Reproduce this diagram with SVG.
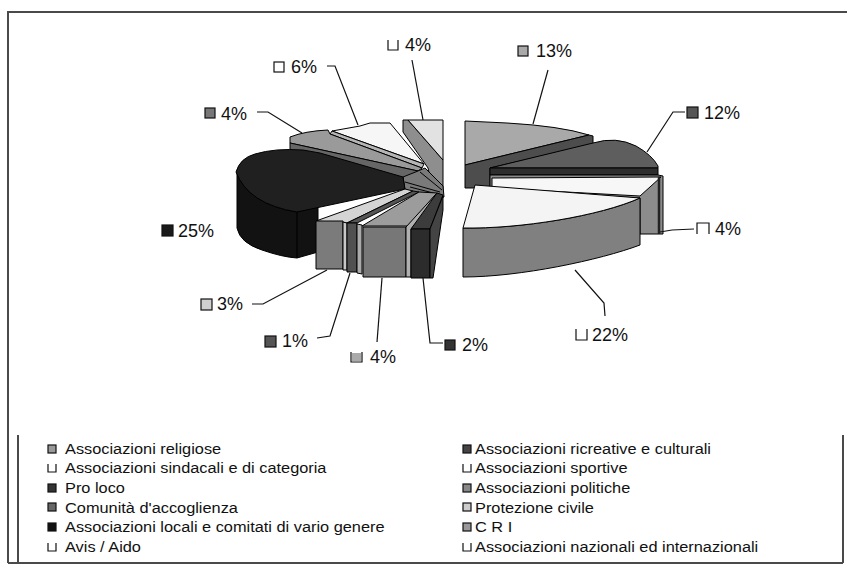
<svg xmlns="http://www.w3.org/2000/svg" width="847" height="565" viewBox="0 0 847 565">
<style>
.e{stroke:#000;stroke-width:1;stroke-linejoin:round}
.lbl{font-family:"Liberation Sans",Arial,sans-serif;font-size:18px;fill:#111}
.lg{font-family:"Liberation Sans",Arial,sans-serif;font-size:15px;fill:#111}
.bx{stroke:#111;stroke-width:1.2}
.ob{fill:none;stroke:#111;stroke-width:1.2}
.ld{fill:none;stroke:#111;stroke-width:1.2}
.fr{fill:none;stroke:#4a4a4a;stroke-width:2}
</style>
<rect width="847" height="565" fill="#fff"/>
<g id="frame">
<path class="fr" d="M8,563 L8,12 L847,12"/>
<path class="fr" d="M8,563 L843,563 M18,435 L18,563 M843,435 L843,563"/>
</g>

<!-- right group -->
<g id="s-religiose">
<path class="e" fill="#a9a9a9" d="M465,121 L507,123 Q560,126 589,135 L465,165 Z"/>
<path class="e" fill="#4d4d4d" d="M465,165 L589,135 L593,136 L593,144 L490,168 L490,188 L465,188 Z"/>
<rect class="bx" x="518" y="46" width="10" height="10" fill="#a9a9a9"/>
<text class="lbl" x="536" y="57">13%</text>
</g>
<g id="s-ricreative">
<path class="e" fill="#5e5e5e" d="M490,168 L593,143 Q616,136 636,146 Q652,155 658,166 L658,168 Z"/>
<path class="e" fill="#2e2e2e" d="M490,168 L658,168 L658,175 L490,175 Z"/>
<rect class="bx" x="687" y="107" width="11" height="11" fill="#555"/>
<text class="lbl" x="704" y="119">12%</text>
</g>
<g id="s-sindacali">
<path class="e" fill="#8c8c8c" d="M490,175 L658,175 L663,176 L663,234 L640,234 L640,198 L492,190 L490,190 Z"/>
<path class="e" fill="#f7f7f7" d="M492,178 L661,177 L640,196 L492,188 Z"/>
<path d="M659,177 L659,234" stroke="#222" stroke-width="2.5"/>
<path class="ob" d="M697,234 L697,223 L709,223 L709,234"/>
<text class="lbl" x="715" y="235">4%</text>
</g>
<g id="s-sportive">
<path class="e" fill="#808080" d="M463,228 C520,229 600,216 640,198 L640,245 C600,260 520,277 463,277 Z"/>
<path class="e" fill="#f4f4f4" d="M475,185 L640,198 C600,216 520,229 463,228 Z"/>
<path class="ob" d="M576,329 L576,340 L587,340 L587,329"/>
<text class="lbl" x="592" y="341">22%</text>
</g>

<!-- left group -->
<g id="s-nazionali">
<path class="e" fill="#8e8e8e" d="M403,120 L408,120 L443,160 L443,192 L434,194 L428,168 L403,132 Z"/>
<path class="e" fill="#e2e2e2" d="M408,120 L443,120 L443,160 Z"/>
<path class="ob" d="M388,40 L388,50 L398,50 L398,40"/>
<text class="lbl" x="405" y="51">4%</text>
</g>
<g id="s-avis">
<path class="e" fill="#f6f6f6" d="M332,131 L360,126 L370,123 L390,123 L424,164 Z"/>
<path class="e" fill="#b5b5b5" d="M332,131 L424,164 L422,168 L330,134 Z"/>
<rect class="bx" x="274" y="62" width="10" height="10" fill="#fff"/>
<text class="lbl" x="291" y="73">6%</text>
</g>
<g id="s-cri">
<path class="e" fill="#9a9a9a" d="M290,137 Q305,131 328,130 L330,134 L422,168 L418,171 L290,143 Z"/>
<path class="e" fill="#666" d="M290,143 L418,171 L425,186 L405,188 L320,155 L290,153 Z"/>
<rect class="bx" x="205" y="108" width="10" height="10" fill="#777"/>
<text class="lbl" x="221" y="120">4%</text>
</g>
<g id="hub">
<path class="e" fill="#7a7a7a" d="M403,177 L418,171 L425,168 L443,186 L444,197 L436,200 L405,190 Z"/>
<path class="e" fill="none" d="M405,182 L440,192 M410,187 L441,195 M420,172 L442,190"/>
</g>
<g id="s-locali">
<path class="e" fill="#121212" d="M237,172 L237,228 Q240,243 262,250 Q282,257 297,258 L318,252 L318,200 L297,212 Q248,204 237,172 Z"/>
<path class="e" fill="#202020" d="M236,172 Q240,158 255,154 Q275,148 303,150 L320,153 L403,177 L405,189 L297,212 Q248,204 236,172 Z"/>
<path d="M297,212 L297,258" stroke="#000" stroke-width="1.2"/>
<rect class="bx" x="162" y="225" width="11" height="11" fill="#1a1a1a"/>
<text class="lbl" x="178" y="237">25%</text>
</g>
<g id="s-protezione">
<path class="e" fill="#d4d4d4" d="M316,221 L405,189 L413,191 L347,223 Z"/>
<path class="e" fill="#7b7b7b" d="M316,221 L343,221 L343,269 L316,269 Z"/>
<path class="e" fill="#c8c8c8" d="M343,222 L347,223 L347,270 L343,270 Z"/>
<rect class="bx" x="201" y="299" width="11" height="11" fill="#d0d0d0"/>
<text class="lbl" x="217" y="310">3%</text>
</g>
<g id="s-comunita">
<path class="e" fill="#555" d="M347,223 L413,191 L419,192 L357,223 Z"/>
<path class="e" fill="#505050" d="M347,223 L357,223 L357,272 L347,272 Z"/>
<path class="e" fill="#aaa" d="M357,224 L362,225 L362,274 L357,273 Z"/>
<rect class="bx" x="265" y="336" width="11" height="11" fill="#555"/>
<text class="lbl" x="282" y="347">1%</text>
</g>
<g id="s-politiche">
<path class="e" fill="#9c9c9c" d="M362,226 L419,192 L437,193 L408,226 Z"/>
<path class="e" fill="#777" d="M363,227 L406,227 L406,277 L363,277 Z"/>
<path class="e" fill="#b0b0b0" d="M406,227 L437,193 L440,196 L411,229 L411,277 L406,277 Z"/>
<path class="ob" d="M351,352 L351,362 L362,362 L362,352" fill="#aaa"/>
<rect x="352" y="353" width="9" height="8" fill="#aaa"/>
<text class="lbl" x="370" y="363">4%</text>
</g>
<g id="s-proloco">
<path class="e" fill="#3c3c3c" d="M411,229 L437,193 L443,195 L430,229 Z"/>
<path class="e" fill="#2c2c2c" d="M411,229 L430,229 L430,278 L411,278 Z"/>
<path class="e" fill="#444" d="M430,229 L443,196 L443,210 L433,278 L430,278 Z"/>
<rect class="bx" x="445" y="340" width="10" height="10" fill="#333"/>
<text class="lbl" x="462" y="351">2%</text>
</g>

<g id="connectors">
<path class="ld" d="M412,60 L423,120"/>
<path class="ld" d="M548,70 L533,124"/>
<path class="ld" d="M685,112 L673,112 L647,152"/>
<path class="ld" d="M660,232 L672,230 L694,229"/>
<path class="ld" d="M575,270 L604,303 L605,316"/>
<path class="ld" d="M423,278 L430,343 L443,343"/>
<path class="ld" d="M382,278 L377,342"/>
<path class="ld" d="M350,273 L330,336 L317,338"/>
<path class="ld" d="M327,270 L263,304 L252,304"/>
<path class="ld" d="M257,112 L268,112 L302,133"/>
<path class="ld" d="M327,66 L335,66 L358,125"/>
</g>

<g id="legend">
<rect class="bx" x="48" y="445" width="8" height="8" fill="#999"/>
<path class="ob" d="M48,464 L48,472 L56,472 L56,464"/>
<rect class="bx" x="48" y="484" width="8" height="8" fill="#333"/>
<rect class="bx" x="48" y="503" width="8" height="8" fill="#666"/>
<rect class="bx" x="48" y="523" width="8" height="8" fill="#111"/>
<path class="ob" d="M48,543 L48,551 L56,551 L56,543"/>
<rect class="bx" x="463" y="445" width="8" height="8" fill="#444"/>
<path class="ob" d="M463,464 L463,472 L471,472 L471,464"/>
<rect class="bx" x="463" y="484" width="8" height="8" fill="#888"/>
<rect class="bx" x="463" y="503" width="8" height="8" fill="#ccc"/>
<rect class="bx" x="463" y="523" width="8" height="8" fill="#999"/>
<path class="ob" d="M463,543 L463,551 L471,551 L471,543"/>
<g transform="translate(65,0) scale(1.09,1)">
<text class="lg" x="0" y="454">Associazioni religiose</text>
<text class="lg" x="0" y="473.5">Associazioni sindacali e di categoria</text>
<text class="lg" x="0" y="493">Pro loco</text>
<text class="lg" x="0" y="513">Comunità d'accoglienza</text>
<text class="lg" x="0" y="532.5">Associazioni locali e comitati di vario genere</text>
<text class="lg" x="0" y="552">Avis / Aido</text>
</g>
<g transform="translate(475,0) scale(1.09,1)">
<text class="lg" x="0" y="454">Associazioni ricreative e culturali</text>
<text class="lg" x="0" y="473.5">Associazioni sportive</text>
<text class="lg" x="0" y="493">Associazioni politiche</text>
<text class="lg" x="0" y="513">Protezione civile</text>
<text class="lg" x="0" y="532.5">C R I</text>
<text class="lg" x="0" y="552">Associazioni nazionali ed internazionali</text>
</g>
</g>
</svg>
